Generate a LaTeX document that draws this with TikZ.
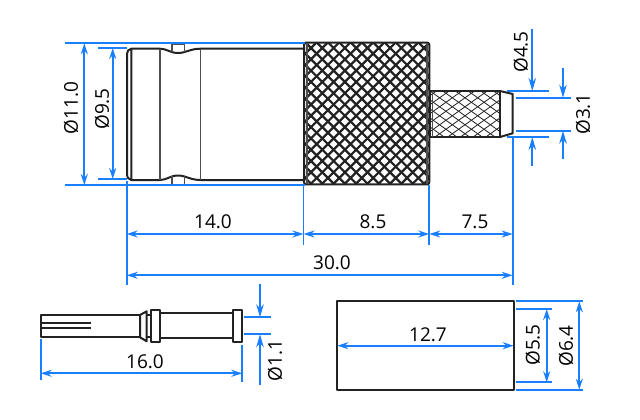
\documentclass[tikz,border=0pt]{standalone}
\usepackage{fontspec}
\setmainfont{Open Sans}
\usetikzlibrary{arrows.meta}
\definecolor{dimblue}{HTML}{1A7FFF}
\definecolor{part}{HTML}{222222}
\tikzset{
  x=1pt,y=-1pt,
  partline/.style={draw=part,line width=2pt,line join=round},
  thinline/.style={draw=part!80,line width=1.3pt},
  knurlbig/.style={draw=part,line width=2.2pt},
  knurlsmall/.style={draw=part,line width=0.8pt},
  extline/.style={draw=dimblue,line width=1.7pt},
  dimline/.style={draw=dimblue,line width=1.7pt,{Stealth[length=11pt,width=7pt]}-{Stealth[length=11pt,width=7pt]}},
  leader/.style={draw=dimblue,line width=1.7pt,-{Stealth[length=13pt,width=7.5pt]}},
  lab/.style={text=black,font=\fontsize{19}{20}\selectfont,inner sep=0pt},
  vlab/.style={lab,rotate=90}
}
\begin{document}
\begin{tikzpicture}
\useasboundingbox (0,0) rectangle (640,420);
% --- connector body
\draw[partline] (131.3,48.7) -- (160,48.7) .. controls (167,48.7) and (170,53) .. (178,53) .. controls (186,53) and (190,48.7) .. (200.7,48.7) -- (305,48.7);
\draw[partline] (131.3,180) -- (160,180) .. controls (167,180) and (170,175.5) .. (178,175.5) .. controls (186,175.5) and (190,180) .. (200.7,180) -- (305,180);
\draw[partline] (131.3,48.7) -- (128,50.5) -- (127,54) -- (127,175) -- (128,178) -- (131.3,180) -- cycle;
\draw[thinline] (160,48.7) -- (160,180) (200.7,48.7) -- (200.7,180);
\draw[thinline] (172,52) -- (172,44) -- (184.7,44) -- (184.7,52);
\draw[thinline] (172,176) -- (172,184.3) -- (184.7,184.3) -- (184.7,176);
% --- big knurl
\begin{scope}
\clip[rounded corners=2pt] (304,42.7) rectangle (429.3,184.3);
\foreach \i in {-14,...,14}{
  \draw[knurlbig] (305+\i*11.3,42) -- ++(144,144);
  \draw[knurlbig] (430-\i*11.3,42) -- ++(-144,144);
}
\end{scope}
\draw[partline,rounded corners=2pt] (304,42.7) rectangle (429.3,184.3);
\draw[thinline,line width=1.6pt] (306.7,42.7) -- (306.7,184.3) (426.7,42.7) -- (426.7,184.3);
% --- small knurl
\begin{scope}
\clip (430,91) rectangle (500,137);
\foreach \i in {-6,...,8}{
  \draw[knurlsmall] (430+\i*12.7,91) -- ++(65,46);
  \draw[knurlsmall] (500-\i*12.7,91) -- ++(-65,46);
}
\end{scope}
\draw[partline] (430,91) rectangle (500,137);
\draw[thinline] (432.7,91) -- (432.7,137);
\draw[partline] (500,91) -- (512.7,94) -- (512.7,133.3) -- (500,137);
% --- pin
\draw[partline] (140,315) -- (40.7,315) -- (40.7,337.3) -- (140,337.3);
\draw[partline] (40.7,323.3) -- (90.7,323.3) (40.7,328) -- (90.7,328);
\draw[partline] (140,315) -- (146.7,311.3) -- (146.7,341.3) -- (140,337.3) -- cycle;
\draw[partline] (146.7,315) -- (151.3,315) (146.7,337) -- (151.3,337);
\draw[partline] (151.3,310) rectangle (160,342);
\draw[partline] (160,313.3) -- (233.3,313.3) (160,338.3) -- (233.3,338.3);
\draw[partline] (233.3,310) rectangle (242.3,342);
% --- tube
\draw[partline] (337.3,301.3) rectangle (513.7,389.7);
% --- extension lines
\draw[extline] (64.7,43.3) -- (305,43.3) (64.7,185) -- (305,185);
\draw[extline] (98,48) -- (127,48) (98,179) -- (127,179);
\draw[extline] (126.7,181) -- (126.7,284.7);
\draw[extline] (303.5,185) -- (303.5,245);
\draw[extline] (429.3,185) -- (429.3,245);
\draw[extline] (512.7,137) -- (512.7,284.7);
\draw[extline] (507,91) -- (549,91) (507,137) -- (549,137);
\draw[extline] (516,97.7) -- (570.7,97.7) (516,130.7) -- (570.7,130.7);
\draw[extline] (40.7,339) -- (40.7,379.7) (242.3,345) -- (242.3,381.7);
\draw[extline] (244,317.3) -- (270.7,317.3) (244,334.3) -- (270.7,334.3);
\draw[extline] (515.7,301.3) -- (583,301.3) (515.7,389.7) -- (583,389.7);
\draw[extline] (515.7,309) -- (551.7,309) (515.7,382.3) -- (551.7,382.3);
% --- dimension arrows
\draw[dimline] (84.3,43.3) -- (84.3,185);
\draw[dimline] (112.7,48) -- (112.7,179);
\draw[dimline] (126.7,234) -- (303.5,234);
\draw[dimline] (303.5,234) -- (429.3,234);
\draw[dimline] (429.3,234) -- (512.7,234);
\draw[dimline] (126.7,275.3) -- (512.7,275.3);
\draw[dimline] (40.7,373.3) -- (242.3,373.3);
\draw[dimline] (337.3,345.7) -- (513.7,345.7);
\draw[dimline] (546.7,309) -- (546.7,382.3);
\draw[dimline] (579.3,301.3) -- (579.3,389.7);
\draw[leader] (532.3,29) -- (532.3,91);
\draw[leader] (532.3,166) -- (532.3,137);
\draw[leader] (563,68) -- (563,97.7);
\draw[leader] (563,159) -- (563,130.7);
\draw[leader] (260,284) -- (260,317.3);
\draw[leader] (260,384.7) -- (260,334.3);
% --- labels
\node[vlab] (d110) at (71,108) {Ø11.0};
\node[vlab] (d95) at (102,109) {Ø9.5};
\node[vlab] (d45) at (520.7,52) {Ø4.5};
\node[vlab] (d31) at (583,114) {Ø3.1};
\node[vlab] (d11) at (275,360.7) {Ø1.1};
\node[vlab] (d55) at (532.7,345) {Ø5.5};
\node[vlab] (d64) at (566,346) {Ø6.4};
\node[lab] (l140) at (213,222) {14.0};
\node[lab] (l85) at (373,222) {8.5};
\node[lab] (l75) at (475,222) {7.5};
\node[lab] (l300) at (332,263) {30.0};
\node[lab] (l160) at (145,361.7) {16.0};
\node[lab] (l127) at (428,335) {12.7};
\end{tikzpicture}
\end{document}
